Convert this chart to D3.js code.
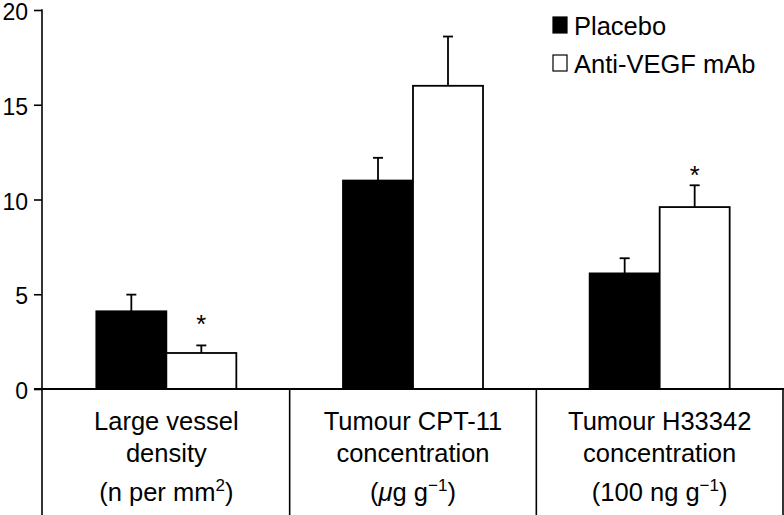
<!DOCTYPE html>
<html><head><meta charset="utf-8">
<script src="https://cdn.jsdelivr.net/npm/d3@7"></script>
<style>body{margin:0;background:#fff}svg{display:block;font-family:"Liberation Sans",Arial,Helvetica,sans-serif}</style>
</head><body><svg id="c" width="784" height="515"></svg>
<script>
const categories = ["Large vessel density", "Tumour CPT-11 concentration", "Tumour H33342 concentration"];
const series = ["Placebo", "Anti-VEGF mAb"];
const placebo = [4.1, 11.0, 6.1];
const placeboErr = [0.88, 1.2, 0.8];
const antiVEGF = [1.9, 16.0, 9.6];
const antiVEGFErr = [0.4, 2.6, 1.15];
const significant = [true, false, true];
const starLevel = [2.98, null, 10.84];
const yTicks = [0, 5, 10, 15, 20];
const labelLine1 = ["Large vessel", "Tumour CPT-11", "Tumour H33342"];
const labelLine2 = ["density", "concentration", "concentration"];

(function () {
const svg = d3.select("#c");
const W = 784, H = 515;
const mLeft = 42, mRight = 783, mTop = 10, base = 389;
const FS = 25.5;

const y = d3.scaleLinear().domain([0, 20]).range([base, mTop]);
const x0 = d3.scaleBand().domain(categories).range([mLeft + 1, mRight]).padding(0);
const bw = x0.bandwidth();
const x1 = d3.scaleBand().domain(series).range([bw / 2 - 70, bw / 2 + 70]).padding(0);

const data = categories.map((c, i) => ({
  cat: c, i,
  vals: [
    {s: series[0], v: placebo[i], e: placeboErr[i]},
    {s: series[1], v: antiVEGF[i], e: antiVEGFErr[i]}
  ]
}));

// y axis
const yAxis = d3.axisLeft(y).tickValues(yTicks).tickSize(8).tickPadding(6);
const ga = svg.append("g").attr("transform", `translate(${mLeft},0)`).call(yAxis);
ga.select(".domain").remove();
ga.selectAll(".tick line").attr("stroke", "#000").attr("stroke-width", 1.6);
ga.selectAll(".tick text").attr("font-size", 23).attr("fill", "#000").attr("dy", "0.42em")
  .attr("font-family", "Liberation Sans, Arial, sans-serif");
svg.append("line").attr("x1", mLeft).attr("x2", mLeft).attr("y1", y(20) - 0.8).attr("y2", H)
  .attr("stroke", "#000").attr("stroke-width", 1.6);

// groups
const g = svg.selectAll(".grp").data(data).enter().append("g")
  .attr("transform", d => `translate(${x0(d.cat)},0)`);

g.each(function(d) {
  const gg = d3.select(this);
  d.vals.forEach((b, j) => {
    const bx = x1(b.s), w = x1.bandwidth();
    const cx = bx + w / 2;
    gg.append("line").attr("x1", cx).attr("x2", cx).attr("y1", y(b.v)).attr("y2", y(b.v + b.e))
      .attr("stroke", "#000").attr("stroke-width", 1.8);
    gg.append("line").attr("x1", cx - 5).attr("x2", cx + 5).attr("y1", y(b.v + b.e)).attr("y2", y(b.v + b.e))
      .attr("stroke", "#000").attr("stroke-width", 1.8);
    gg.append("rect").attr("x", bx).attr("y", y(b.v)).attr("width", w).attr("height", base - y(b.v))
      .attr("fill", j === 0 ? "#000" : "#fff").attr("stroke", "#000").attr("stroke-width", 1.8);
    if (j === 1 && significant[d.i]) {
      gg.append("text").attr("x", cx).attr("y", y(starLevel[d.i])).attr("text-anchor", "middle")
        .attr("font-size", FS).text("*");
    }
  });
});

// baseline
svg.append("line").attr("x1", mLeft - 8).attr("x2", W).attr("y1", base).attr("y2", base)
  .attr("stroke", "#000").attr("stroke-width", 1.8);

// separators
categories.forEach(c => {
  const xr = x0(c) + bw;
  svg.append("line").attr("x1", xr).attr("x2", xr).attr("y1", base).attr("y2", H)
    .attr("stroke", "#000").attr("stroke-width", 1.6);
});

// category labels
data.forEach((d, i) => {
  const cx = x0(d.cat) + bw / 2;
  svg.append("text").attr("x", cx).attr("y", 430).attr("text-anchor", "middle")
    .attr("font-size", FS).text(labelLine1[i]);
  svg.append("text").attr("x", cx).attr("y", 462).attr("text-anchor", "middle")
    .attr("font-size", FS).text(labelLine2[i]);
  const t3 = svg.append("text").attr("x", cx).attr("y", 501).attr("text-anchor", "middle").attr("font-size", FS);
  if (i === 0) {
    t3.append("tspan").text("(n per mm");
    t3.append("tspan").attr("dy", -10).attr("font-size", 17).text("2");
    t3.append("tspan").attr("dy", 10).text(")");
  } else if (i === 1) {
    t3.append("tspan").text("(");
    t3.append("tspan").attr("font-style", "italic").text("μ");
    t3.append("tspan").text("g g");
    t3.append("tspan").attr("dy", -10).attr("font-size", 17).text("−1");
    t3.append("tspan").attr("dy", 10).text(")");
  } else {
    t3.append("tspan").text("(100 ng g");
    t3.append("tspan").attr("dy", -10).attr("font-size", 17).text("−1");
    t3.append("tspan").attr("dy", 10).text(")");
  }
});

// legend
const leg = svg.append("g");
series.forEach((s, i) => {
  const ly = 17 + i * 38;
  leg.append("rect").attr("x", 553).attr("y", ly).attr("width", 14).attr("height", 16)
    .attr("fill", i === 0 ? "#000" : "#fff").attr("stroke", "#000").attr("stroke-width", 1.2);
  leg.append("text").attr("x", 574).attr("y", ly + 17.5).attr("font-size", FS).text(s);
});
})();
</script>
</body></html>
